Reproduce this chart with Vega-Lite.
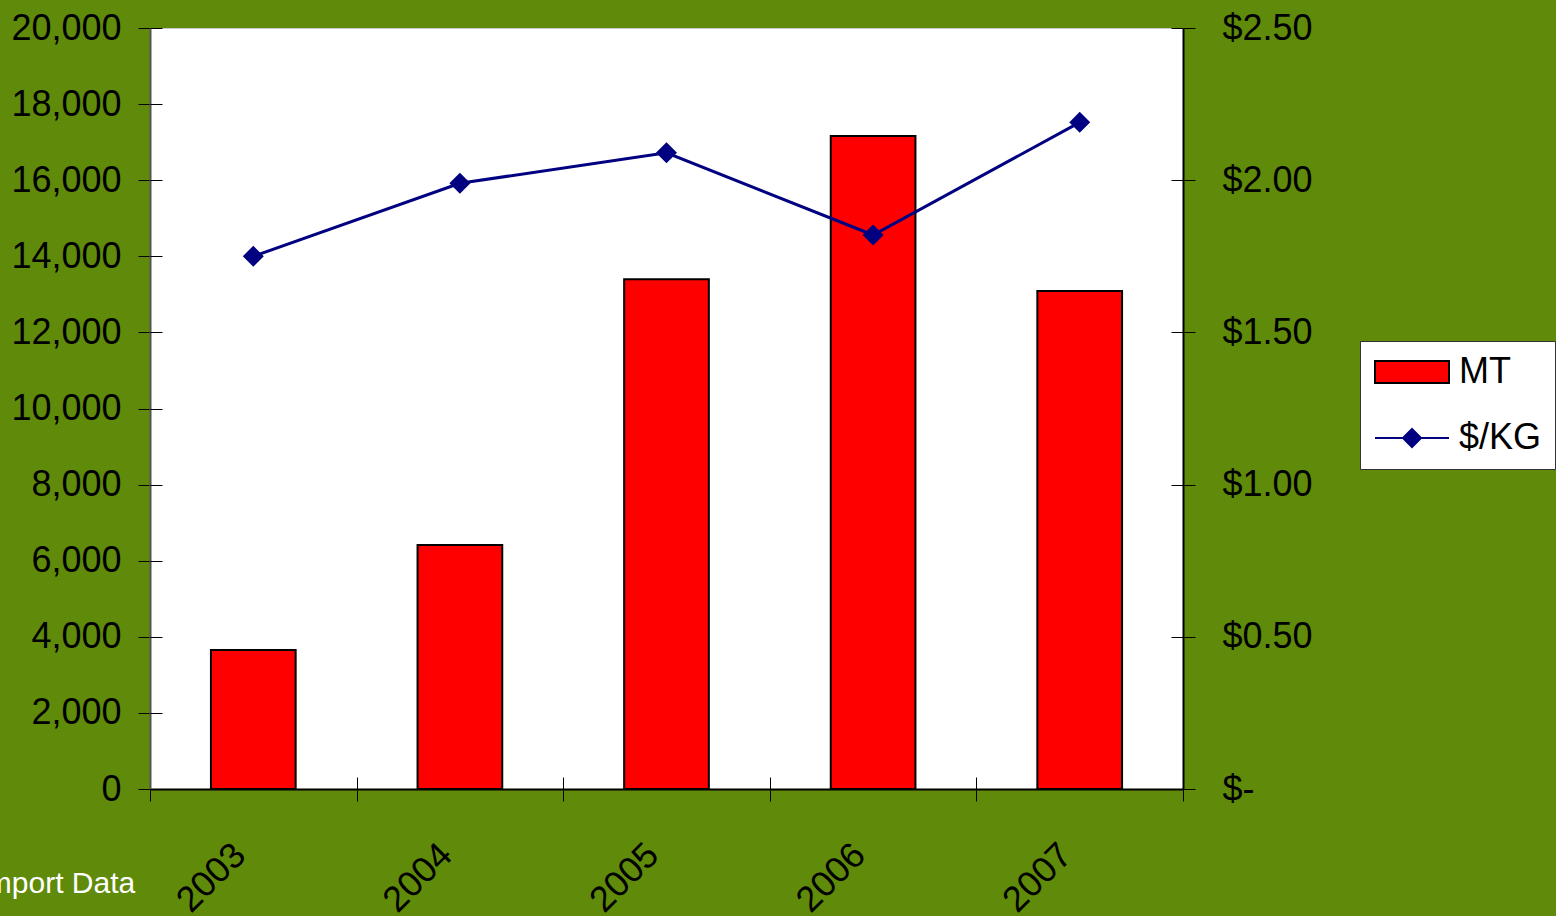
{
  "$schema": "https://vega.github.io/schema/vega-lite/v6.json",
  "width": 1033,
  "height": 761,
  "autosize": "none",
  "padding": {"left": 150, "top": 28, "right": 373, "bottom": 127},
  "background": "#5f8a0a",
  "config": {
    "view": {"fill": "white", "stroke": "#c8c8c8", "strokeWidth": 1},
    "font": "Liberation Sans",
    "axis": {"labelFont": "Liberation Sans", "labelColor": "black", "labelFontSize": 36, "tickColor": "black", "tickWidth": 1, "grid": false},
    "legend": {
      "orient": "none", "legendX": 1210, "legendY": 313,
      "fillColor": "white", "strokeColor": "#333333", "padding": 13,
      "labelFont": "Liberation Sans", "labelFontSize": 36, "labelColor": "black",
      "symbolSize": 100, "labelOffset": 50, "rowPadding": 30, "symbolStrokeWidth": 2
    }
  },
  "data": {
    "values": [
      {"year": "2003", "MT": 3650, "price": 1.75},
      {"year": "2004", "MT": 6410, "price": 1.99},
      {"year": "2005", "MT": 13400, "price": 2.09},
      {"year": "2006", "MT": 17160, "price": 1.82},
      {"year": "2007", "MT": 13090, "price": 2.19}
    ]
  },
  "layer": [
    {
      "mark": {"type": "bar", "strokeWidth": 2, "width": {"band": 0.41}},
      "encoding": {
        "x": {
          "field": "year", "type": "ordinal",
          "scale": {"paddingInner": 0, "paddingOuter": 0},
          "axis": {
            "tickBand": "extent", "tickSize": 12, "domain": true, "domainColor": "black", "domainWidth": 2,
            "labelAngle": -45, "labelAlign": "right", "labelBaseline": "middle", "labelPadding": 48, "labelOffset": -14,
            "title": "Import Data", "titleColor": "white", "titleFontSize": 30, "titleFontWeight": "normal",
            "titleFont": "Liberation Sans", "titleAnchor": "start", "titleAlign": "left", "titleBaseline": "alphabetic",
            "titleX": -172, "titleY": 103
          }
        },
        "y": {
          "field": "MT", "type": "quantitative",
          "scale": {"domain": [0, 20000], "nice": false},
          "axis": {
            "orient": "left", "values": [0, 2000, 4000, 6000, 8000, 10000, 12000, 14000, 16000, 18000, 20000],
            "labelExpr": "format(datum.value, ',')", "tickSize": 12, "labelPadding": 17, "domain": true, "domainColor": "#555555", "domainWidth": 2, "title": null
          }
        },
        "color": {
          "datum": "MT", "type": "nominal",
          "scale": {"domain": ["MT", "$/KG"], "range": ["#ff0000", "#000080"]},
          "legend": {
            "title": null,
            "symbolType": {"expr": "datum.value === 'MT' ? 'M-3.2,-2.2H11.6V2.2H-3.2Z' : 'M-3.2,0H11.6M4.2,-1.8L6,0L4.2,1.8L2.4,0Z'"}
          }
        },
        "stroke": {
          "datum": "MT", "type": "nominal",
          "scale": {"domain": ["MT", "$/KG"], "range": ["#000000", "#000080"]},
          "legend": {
            "title": null,
            "symbolType": {"expr": "datum.value === 'MT' ? 'M-3.2,-2.2H11.6V2.2H-3.2Z' : 'M-3.2,0H11.6M4.2,-1.8L6,0L4.2,1.8L2.4,0Z'"}
          }
        }
      }
    },
    {
      "mark": {"type": "line", "strokeWidth": 3, "point": {"shape": "diamond", "size": 330, "filled": true}},
      "encoding": {
        "x": {
          "field": "year", "type": "ordinal",
          "axis": {"orient": "bottom", "offset": -12, "tickBand": "extent", "tickSize": 12, "labels": false, "domain": false, "title": null}
        },
        "y": {
          "field": "price", "type": "quantitative",
          "scale": {"domain": [0, 2.5], "nice": false},
          "axis": {
            "orient": "right", "values": [0, 0.5, 1, 1.5, 2, 2.5],
            "labelExpr": "datum.value == 0 ? '$-' : '$' + format(datum.value, '.2f')",
            "tickSize": 12, "labelPadding": 27, "domain": true, "domainColor": "black", "domainWidth": 2, "title": null
          }
        },
        "color": {
          "datum": "$/KG", "type": "nominal",
          "legend": {
            "title": null,
            "symbolType": {"expr": "datum.value === 'MT' ? 'M-3.2,-2.2H11.6V2.2H-3.2Z' : 'M-3.2,0H11.6M4.2,-1.8L6,0L4.2,1.8L2.4,0Z'"}
          }
        },
        "stroke": {
          "datum": "$/KG", "type": "nominal",
          "legend": {
            "title": null,
            "symbolType": {"expr": "datum.value === 'MT' ? 'M-3.2,-2.2H11.6V2.2H-3.2Z' : 'M-3.2,0H11.6M4.2,-1.8L6,0L4.2,1.8L2.4,0Z'"}
          }
        }
      }
    },
    {
      "mark": {"type": "point", "opacity": 0},
      "encoding": {
        "x": {"field": "year", "type": "ordinal", "axis": null},
        "y": {
          "field": "MT", "type": "quantitative",
          "scale": {"domain": [0, 20000], "nice": false},
          "axis": {
            "orient": "left", "offset": -12, "values": [0, 2000, 4000, 6000, 8000, 10000, 12000, 14000, 16000, 18000, 20000],
            "tickSize": 12, "labels": false, "domain": false, "title": null
          }
        }
      }
    },
    {
      "mark": {"type": "point", "opacity": 0},
      "encoding": {
        "x": {"field": "year", "type": "ordinal", "axis": null},
        "y": {
          "field": "price", "type": "quantitative",
          "scale": {"domain": [0, 2.5], "nice": false},
          "axis": {
            "orient": "right", "offset": -12, "values": [0, 0.5, 1, 1.5, 2, 2.5],
            "tickSize": 12, "labels": false, "domain": false, "title": null
          }
        }
      }
    }
  ],
  "resolve": {"scale": {"y": "independent"}, "axis": {"x": "independent"}}
}
